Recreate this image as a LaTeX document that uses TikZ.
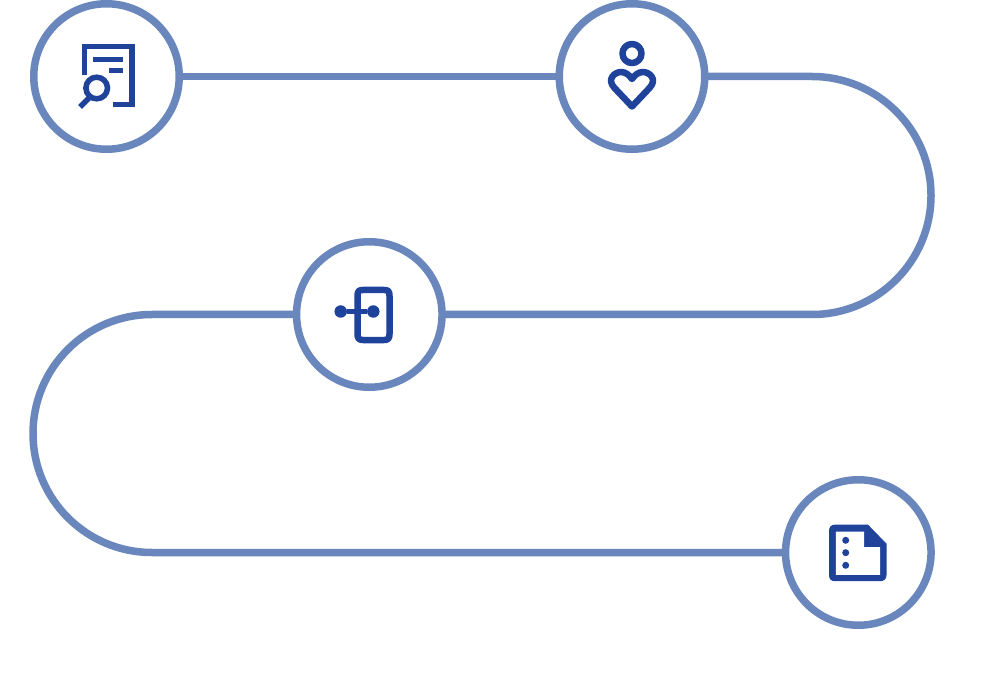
\documentclass[tikz,border=0pt]{standalone}
\usepackage{fontspec}
\setmainfont{Liberation Sans}
\definecolor{pathblue}{HTML}{6A87BD}
\definecolor{iconblue}{HTML}{1F429B}
\tikzset{
  stepcircle/.style={circle,draw=pathblue,line width=7.5pt,fill=white,minimum size=145.5pt,inner sep=0pt,outer sep=0pt},
  connector/.style={draw=pathblue,line width=7.5pt},
  steplabel/.style={anchor=base,text=white,inner sep=0pt,font=\fontsize{37.5}{40}\selectfont},
  icon/.style={draw=iconblue,line width=5.5pt,fill=none},
  iconround/.style={icon,line width=6.5pt,line join=round,line cap=round},
  icondot/.style={circle,fill=iconblue,draw=none,inner sep=0pt,outer sep=0pt}
}
\begin{document}
\begin{tikzpicture}[x=1pt,y=-1pt]
\useasboundingbox[fill=white] (0,0) rectangle (987,700);
% route coordinates
\coordinate (r1) at (812,76.5);
\coordinate (r2) at (812,314.5);
\coordinate (l1) at (152,314.5);
\coordinate (l2) at (152,552.5);
% step circles
\node[stepcircle] (c1) at (106.5,76.5) {};
\node[stepcircle] (c2) at (632,76.5) {};
\node[stepcircle] (c3) at (369.3,314.5) {};
\node[stepcircle] (c4) at (858.3,552.5) {};
% connectors
\draw[connector] (c1.east) -- (c2.west);
\draw[connector] (c2.east) -- (r1) arc[start angle=-90,end angle=90,radius=119] -- (c3.east);
\draw[connector] (c3.west) -- (l1) arc[start angle=-90,end angle=-270,radius=119] -- (c4.west);
% labels
\node[steplabel] (t1) at (106,212) {1. Research};
\node[steplabel] (t2) at (632,212) {2. Empathize};
\node[steplabel] (t3) at (370,451) {3. Prototype};
\node[steplabel] (t4) at (859,688) {4. Summarize};
% icon 1
\draw[icon] (84.3,75.3) -- (84.3,46.7) -- (132,46.7) -- (132,104.3) -- (112.7,104.3);
\draw[icon] (93.3,59.7) -- (123.3,59.7);
\draw[icon] (108.7,70.7) -- (123.3,70.7);
\draw[icon] (96.7,88) circle[radius=10.8];
\draw[icon] (89.3,97.7) -- (80,107);
% icon 2
\draw[iconround] (632,53.5) circle[radius=9.5];
\draw[iconround] (632,106.5) -- (614.5,88) .. controls (606,79) and (615,72) .. (621,72) .. controls (626,72) and (629.5,75.5) .. (632,79) .. controls (634.5,75.5) and (638,72) .. (643,72) .. controls (649,72) and (658,79) .. (649.5,88) -- cycle;
% icon 3
\draw[iconround] (357.5,296) .. controls (357.5,291) and (359,290) .. (363,290) -- (384,290) .. controls (388,290) and (389.5,291) .. (389.5,296) -- (389.5,334) .. controls (389.5,338.5) and (388,340) .. (384,340) -- (363,340) .. controls (359,340) and (357.5,338.5) .. (357.5,334) -- cycle;
\node[icondot,minimum size=12.5pt] (d1) at (340.7,311.5) {};
\node[icondot,minimum size=12.5pt] (d2) at (373.3,311.5) {};
\draw[icon] (d1) -- (d2);
% icon 4
\fill[iconblue] (835,524.7) -- (868,524.7) -- (886.5,543.7) -- (886.5,575) .. controls (886.5,579) and (884,581.2) .. (880,581.2) -- (835,581.2) .. controls (831,581.2) and (829,579) .. (829,575) -- (829,531) .. controls (829,527) and (831,524.7) .. (835,524.7) -- cycle;
\fill[white] (835.8,531.5) -- (864,531.5) -- (864,547) -- (880,547) -- (880,574.8) -- (835.8,574.8) -- cycle;
\node[icondot,minimum size=7pt] (p1) at (845.7,540.3) {};
\node[icondot,minimum size=7pt] (p2) at (845.7,552.7) {};
\node[icondot,minimum size=7pt] (p3) at (845.7,565.3) {};
\end{tikzpicture}
\end{document}
